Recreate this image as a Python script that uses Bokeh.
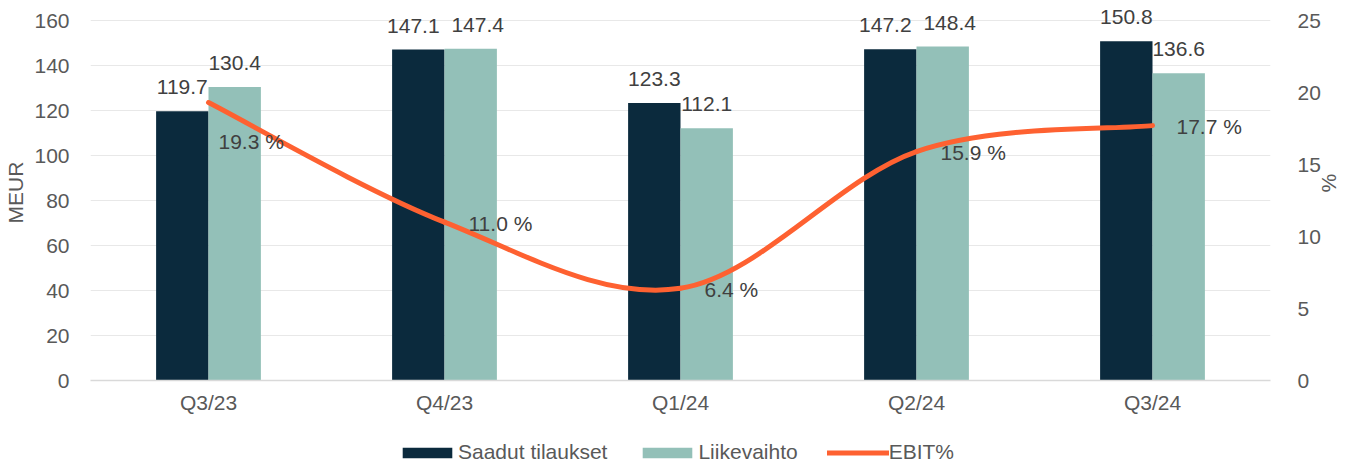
import math
import numpy as np
from bokeh.plotting import figure
from bokeh.layouts import column
from bokeh.models import (Range1d, LinearAxis, FixedTicker, ColumnDataSource,
                          Legend, LegendItem)
from bokeh.transform import dodge
from bokeh.core.properties import value
from bokeh.embed import file_html
from bokeh.resources import INLINE

# ---- data ----
categories = ["Q3/23", "Q4/23", "Q1/24", "Q2/24", "Q3/24"]
orders = [119.7, 147.1, 123.3, 147.2, 150.8]      # Saadut tilaukset (MEUR)
revenue = [130.4, 147.4, 112.1, 148.4, 136.6]     # Liikevaihto (MEUR)
ebit_pct = [19.3, 11.0, 6.4, 15.9, 17.7]          # EBIT%
left_ticks = [0, 20, 40, 60, 80, 100, 120, 140, 160]
right_ticks = [0, 5, 10, 15, 20, 25]
series_names = ["Saadut tilaukset", "Liikevaihto", "EBIT%"]

# ---- layout / style (not data) ----
orders_label_dx = [0, -5, 0, -5, 0]
revenue_label_dx = [0, 7, 0, 7, 0]
ebit_label_dx = [10, 24, 24, 24, 24]
ebit_label_dy = [39, 1, 1, 1, 1]
NAVY = "#0b2a3d"
TEAL = "#93c0b8"
ORANGE = "#fe6131"
TXT = "#595959"
LBL = "#404040"
FONT = value("Liberation Sans")
FS = "21px"
W = 1354
H_MAIN = 430
H_LEG = 464 - H_MAIN

n = len(categories)
xs = np.arange(n) + 0.5

src = ColumnDataSource(dict(
    x=xs, orders=orders, revenue=revenue, ebit=ebit_pct,
    orders_lbl=[f"{v:.1f}" for v in orders],
    revenue_lbl=[f"{v:.1f}" for v in revenue],
    ebit_lbl=[f"{v:.1f} %" for v in ebit_pct],
    odx=orders_label_dx, rdx=revenue_label_dx,
    dx=ebit_label_dx, dy=ebit_label_dy,
))

frame_px = 376.0
left_max = 160 * frame_px / 360.0
right_max = 25 * frame_px / 360.0

p = figure(width=W, height=H_MAIN, x_range=Range1d(0, n),
           y_range=Range1d(0, left_max),
           output_backend="svg", toolbar_location=None,
           min_border_left=90, min_border_right=84,
           min_border_top=4, min_border_bottom=H_MAIN - 380)
p.extra_y_ranges = {"pct": Range1d(0, right_max)}
p.outline_line_color = None
p.background_fill_color = "white"

BW = 0.222
OFF = 0.111
r_orders = p.vbar(x=dodge("x", -OFF), top="orders", width=BW, source=src,
                  fill_color=NAVY, line_color=None)
r_rev = p.vbar(x=dodge("x", OFF), top="revenue", width=BW, source=src,
               fill_color=TEAL, line_color=None)

# smooth (Catmull-Rom style) curve through the EBIT points
P = list(zip(xs, ebit_pct))
x0, y0, x1, y1, cx0, cy0, cx1, cy1 = [], [], [], [], [], [], [], []
for i in range(n - 1):
    pm = P[i - 1] if i > 0 else P[i]
    pa = P[i]
    pb = P[i + 1]
    pp = P[i + 2] if i + 2 < n else P[i + 1]
    x0.append(pa[0]); y0.append(pa[1])
    x1.append(pb[0]); y1.append(pb[1])
    cx0.append(pa[0] + (pb[0] - pm[0]) / 6.0)
    cy0.append(pa[1] + (pb[1] - pm[1]) / 6.0)
    cx1.append(pb[0] - (pp[0] - pa[0]) / 6.0)
    cy1.append(pb[1] - (pp[1] - pa[1]) / 6.0)
bsrc = ColumnDataSource(dict(x0=x0, y0=y0, x1=x1, y1=y1,
                             cx0=cx0, cy0=cy0, cx1=cx1, cy1=cy1))
r_ebit = p.bezier(x0="x0", y0="y0", x1="x1", y1="y1", cx0="cx0", cy0="cy0",
                  cx1="cx1", cy1="cy1", source=bsrc, line_color=ORANGE,
                  line_width=5, line_cap="round", y_range_name="pct")

# labels
p.text(x=dodge("x", -OFF), y="orders", text="orders_lbl", source=src,
       x_offset="odx", text_align="center", text_baseline="alphabetic",
       y_offset=-24, text_font=FONT, text_font_size=FS, text_color=LBL)
p.text(x=dodge("x", OFF), y="revenue", text="revenue_lbl", source=src,
       x_offset="rdx", text_align="center", text_baseline="alphabetic",
       y_offset=-24, text_font=FONT, text_font_size=FS, text_color=LBL)
p.text(x="x", y="ebit", text="ebit_lbl", source=src, y_range_name="pct",
       x_offset="dx", y_offset="dy",
       text_align="left", text_baseline="middle",
       text_font=FONT, text_font_size=FS, text_color=LBL)

# axes
xa = p.xaxis[0]
xa.ticker = FixedTicker(ticks=list(xs))
xa.major_label_overrides = {float(x): c for x, c in zip(xs, categories)}
xa.axis_line_color = "#d9d9d9"
xa.axis_line_width = 1.5
xa.major_tick_line_color = None
xa.minor_tick_line_color = None
xa.major_label_standoff = 4
xa.major_label_text_font = "Liberation Sans"
xa.major_label_text_font_size = FS
xa.major_label_text_color = TXT

ya = p.yaxis[0]
ya.ticker = FixedTicker(ticks=left_ticks)
ya.axis_line_color = None
ya.major_tick_line_color = None
ya.minor_tick_line_color = None
ya.major_label_standoff = 15
ya.axis_label = "MEUR"
ya.axis_label_standoff = 4
ya.axis_label_text_font = "Liberation Sans"
ya.axis_label_text_font_size = FS
ya.axis_label_text_font_style = "normal"
ya.axis_label_text_color = TXT
ya.major_label_text_font = "Liberation Sans"
ya.major_label_text_font_size = FS
ya.major_label_text_color = TXT

ra = LinearAxis(y_range_name="pct", ticker=FixedTicker(ticks=right_ticks))
ra.axis_line_color = None
ra.major_tick_line_color = None
ra.minor_tick_line_color = None
ra.major_label_standoff = 21
ra.axis_label = "%"
ra.axis_label_standoff = 5
ra.axis_label_text_font = "Liberation Sans"
ra.axis_label_text_font_size = FS
ra.axis_label_text_font_style = "normal"
ra.axis_label_text_color = TXT
ra.major_label_text_font = "Liberation Sans"
ra.major_label_text_font_size = FS
ra.major_label_text_color = TXT
if "axis_label_orientation" in ra.properties():
    ra.axis_label_orientation = math.pi / 2
p.add_layout(ra, "right")

p.xgrid.grid_line_color = None
p.ygrid.ticker = FixedTicker(ticks=left_ticks)
p.ygrid.grid_line_color = "#e8e8e8"
p.ygrid.grid_line_width = 1

# ---- legend strip (separate small figure below the chart) ----
q = figure(width=W, height=H_LEG, x_range=Range1d(0, 1), y_range=Range1d(0, 1),
           output_backend="svg", toolbar_location=None, min_border=0)
q.axis.visible = False
q.grid.visible = False
q.outline_line_color = None
# hidden proxy renderers (same data) that only supply the legend swatches
lg_o = q.vbar(x="x", top="orders", width=0.1, source=src,
              fill_color=NAVY, line_color=None, visible=False)
lg_r = q.vbar(x="x", top="revenue", width=0.1, source=src,
              fill_color=TEAL, line_color=None, visible=False)
lg_e = q.line(x="x", y="ebit", source=src, line_color=ORANGE, line_width=5,
              line_cap="round", visible=False)
legend = Legend(items=[
    LegendItem(label=series_names[0], renderers=[lg_o], index=0),
    LegendItem(label=series_names[1], renderers=[lg_r], index=0),
    LegendItem(label=series_names[2], renderers=[lg_e]),
], orientation="horizontal", location=(306, 0), padding=0, margin=0,
    spacing=29, glyph_width=62, glyph_height=13, label_standoff=0,
    border_line_color=None, background_fill_alpha=0,
    inactive_fill_alpha=0, click_policy="none",
    label_text_font="Liberation Sans", label_text_font_size=FS,
    label_text_color=TXT)
q.add_layout(legend)

layout = column(p, q, spacing=0)
open("out.html", "w").write(file_html(layout, INLINE))
